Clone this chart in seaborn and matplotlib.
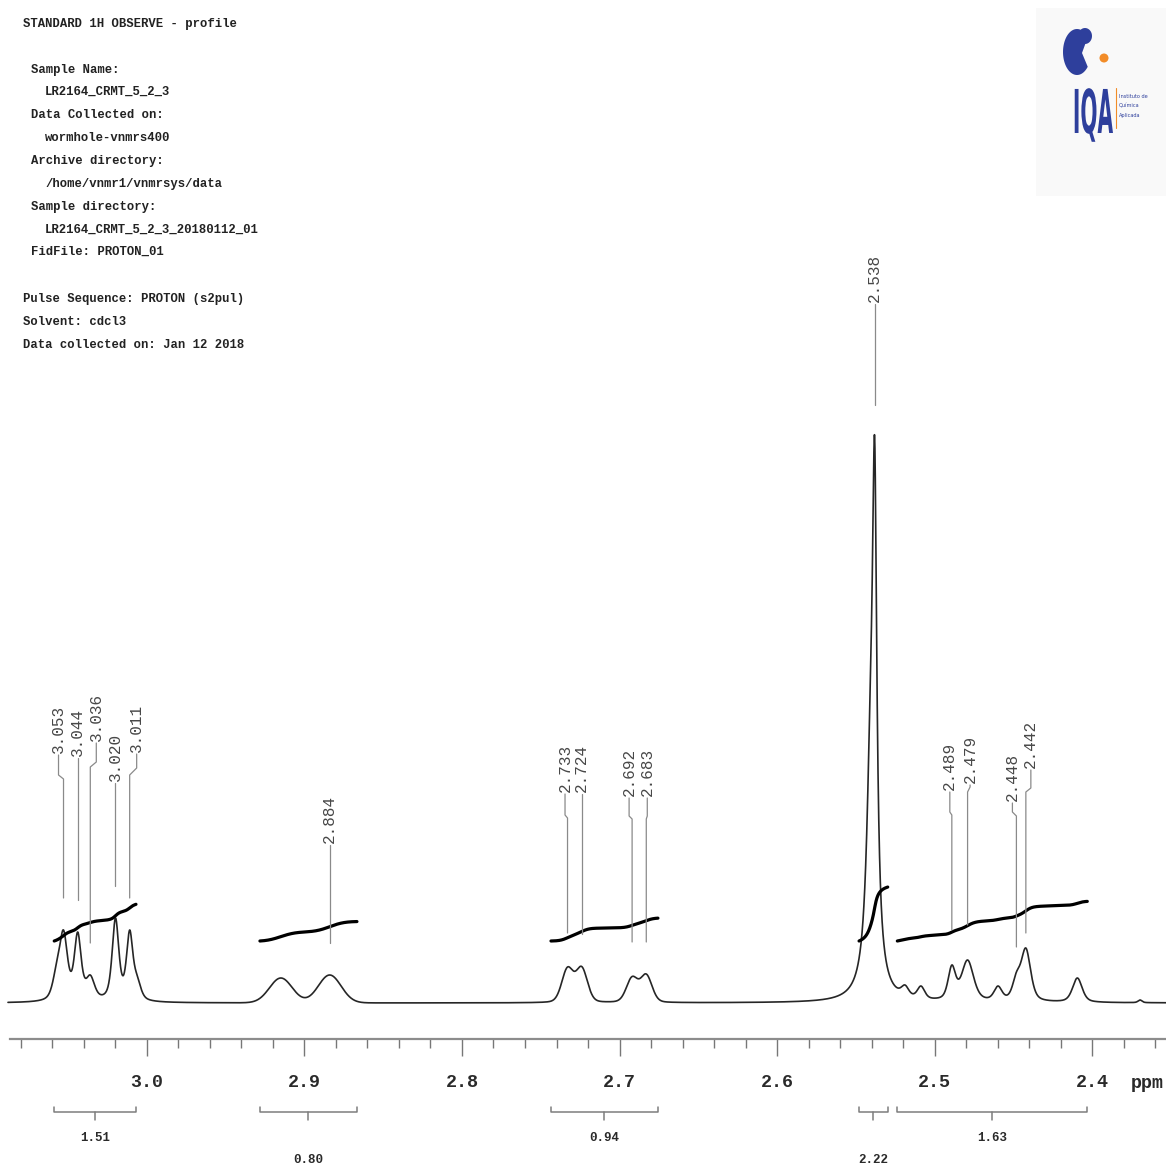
import numpy as np
import matplotlib
matplotlib.use("Agg")
import matplotlib.pyplot as plt
from matplotlib.ticker import MultipleLocator, FixedLocator, FormatStrFormatter
from matplotlib.patches import Polygon, Circle, Rectangle
from matplotlib.patheffects import AbstractPathEffect
from matplotlib.transforms import Affine2D
import seaborn as sns

# ------------------------------------------------------------------ data
# resolved lines of the 1H trace: shift (ppm), apex intensity, half width (ppm), Lorentzian fraction
line_ppm = [3.0575, 3.0530, 3.0440, 3.0360, 3.0200, 3.0110, 3.0063,
            2.9150, 2.8840,
            2.7330, 2.7240, 2.6920, 2.6830,
            2.5405, 2.5380,
            2.5187, 2.5086, 2.4890, 2.4790, 2.4597, 2.4480, 2.4420, 2.4093, 2.3695]
line_apex = [40, 73, 71, 28, 85, 73, 28,
             25, 28,
             36, 36.5, 26.5, 29,
             340, 566,
             18, 17, 38, 43, 17, 31, 55, 25, 3]
line_hwhm = [0.0030, 0.0030, 0.0026, 0.0032, 0.0025, 0.0024, 0.0028,
             0.0085, 0.0085,
             0.0043, 0.0043, 0.0043, 0.0043,
             0.0032, 0.00165,
             0.0028, 0.0028, 0.0028, 0.0045, 0.0030, 0.0030, 0.0036, 0.0036, 0.0015]
line_eta = [0.5, 0.5, 0.6, 0.5, 0.6, 0.6, 0.5,
            0.0, 0.0,
            0.2, 0.2, 0.2, 0.2,
            1.0, 1.0,
            0.5, 0.5, 0.5, 0.5, 0.5, 0.5, 0.5, 0.5, 0.5]

# peak picks printed above the trace
pick_ppm = [3.053, 3.044, 3.036, 3.020, 3.011, 2.884,
            2.733, 2.724, 2.692, 2.683, 2.538,
            2.489, 2.479, 2.448, 2.442]

# integral regions (ppm) and normalised integral values
integral_start = [3.0589, 2.9283, 2.7435, 2.5479, 2.5236]
integral_end = [3.0070, 2.8667, 2.6756, 2.5297, 2.4030]
integral_value = [1.51, 0.80, 0.94, 2.22, 1.63]

axis_major = [3.0, 2.9, 2.8, 2.7, 2.6, 2.5, 2.4]

header_text = ["STANDARD 1H OBSERVE - profile",
               "Sample Name:", "LR2164_CRMT_5_2_3",
               "Data Collected on:", "wormhole-vnmrs400",
               "Archive directory:", "/home/vnmr1/vnmrsys/data",
               "Sample directory:", "LR2164_CRMT_5_2_3_20180112_01",
               "FidFile: PROTON_01",
               "Pulse Sequence: PROTON (s2pul)",
               "Solvent: cdcl3",
               "Data collected on: Jan 12 2018"]

# ------------------------------------------------------------------ layout (pixels)
W, H = 1166, 1168
PPM_L, PPM_R = 3.09333, 2.35302
BASE = 1003.0
PX_PER_PPM = W / (PPM_L - PPM_R)

header_x = [23, 31, 45, 31, 45, 31, 45, 31, 45, 31, 23, 23, 23]
header_y = [24, 70, 92, 115, 138, 161, 184, 207, 230, 252, 299, 322, 345]

# label offset from the line, text foot, bend top, bend bottom, tip
pick_dx = [-5, 0, 6, 0, 7, 0, -2.5, 0, -3, 1, 0, -2, 2.5, -4, 5]
pick_foot = [753, 756, 741, 781, 752, 843, 792, 792, 796, 796, 302, 790, 783, 801, 768]
pick_bend0 = [775, 775, 762, 784, 768, 846, 815, 815, 816, 816, 305, 812, 787, 812, 788]
pick_bend1 = [779, 778, 767, 786, 775, 848, 818, 818, 819, 819, 307, 815, 792, 816, 792]
pick_tip = [898, 900, 943, 886, 898, 943, 933, 934, 942, 942, 405, 930, 925, 947, 933]
integral_row = [1138, 1160, 1138, 1160, 1138]


def ppm_at(px):
    return PPM_L - px / PX_PER_PPM


def yv(py):
    return BASE - py


def lineshape(x, c, w, eta):
    u = (x - c) / w
    return eta / (1.0 + u * u) + (1.0 - eta) * np.exp(-np.log(2.0) * u * u)


c = np.array(line_ppm)
w = np.array(line_hwhm)
e = np.array(line_eta)
M = lineshape(c[:, None], c[None, :], w[None, :], e[None, :])
amp = np.linalg.solve(M, np.array(line_apex, dtype=float))


def spectrum(xx):
    return (amp[None, :] * lineshape(xx[:, None], c[None, :], w[None, :], e[None, :])).sum(axis=1)


class Stretch(AbstractPathEffect):
    """Stretch glyphs vertically about the baseline."""

    def __init__(self, sy):
        super().__init__()
        self._sy = sy

    def draw_path(self, renderer, gc, tpath, affine, rgbFace=None):
        renderer.draw_path(gc, tpath, Affine2D().scale(1.0, self._sy) + affine, rgbFace)


# ------------------------------------------------------------------ figure
sns.set_theme(style="white")
plt.rcParams["font.family"] = ["Liberation Mono", "DejaVu Sans"]

fig = plt.figure(figsize=(W / 100, H / 100), dpi=100)
fig.patch.set_facecolor("white")
ax = fig.add_axes([0, 0, 1, 1])
ax.set_facecolor("white")
ax.set_xlim(PPM_L, PPM_R)
ax.set_ylim(BASE - H, BASE)

# trace
xs = np.linspace(ppm_at(8), PPM_R, 9000)
sns.lineplot(x=xs, y=spectrum(xs), ax=ax, color="#262626", linewidth=1.2,
             estimator=None, sort=False)

# integral curves, brackets and values
INT_BASE, INT_SCALE = 62.0, 24.3
for k, (a, b, v) in enumerate(zip(integral_start, integral_end, integral_value)):
    xi = np.linspace(a, b, 600)
    yi = spectrum(xi)
    cum = np.concatenate([[0.0], np.cumsum(0.5 * (yi[1:] + yi[:-1]))])
    cum /= cum[-1]
    sns.lineplot(x=xi, y=INT_BASE + v * INT_SCALE * cum, ax=ax, color="black",
                 linewidth=2.3, estimator=None, sort=False)
    yb = yv(1112)
    ax.plot([a, a, b, b], [yv(1107), yb, yb, yv(1107)], color="#7d7d7d", lw=1.1)
    m = 0.5 * (a + b)
    ax.plot([m, m], [yb, yv(1120)], color="#7d7d7d", lw=1.1)
    ax.text(m, yv(integral_row[k]), f"{v:.2f}", ha="center", va="center",
            fontsize=9, fontweight="bold", color="#2a2a2a")

# peak picks
for p, dx, foot, b0, b1, tip in zip(pick_ppm, pick_dx, pick_foot, pick_bend0,
                                    pick_bend1, pick_tip):
    tx = p - dx / PX_PER_PPM
    ax.text(tx, yv(foot), f"{p:.3f}", rotation=90, ha="center", va="bottom",
            fontsize=11.5, color="#474747")
    ax.plot([tx, tx, p, p], [yv(foot + 2), yv(b0), yv(b1), yv(tip)],
            color="#8a8a8a", lw=0.9)

# ppm axis
for s in ("left", "right", "top"):
    ax.spines[s].set_visible(False)
sp = ax.spines["bottom"]
sp.set_visible(True)
sp.set_position(("data", yv(1039)))
sp.set_bounds(ppm_at(10), PPM_R)
sp.set_color("#8c8c8c")
sp.set_linewidth(1.6)
ax.xaxis.set_major_locator(FixedLocator(axis_major))
ax.xaxis.set_minor_locator(MultipleLocator(0.02))
ax.xaxis.set_major_formatter(FormatStrFormatter("%.1f"))
ax.tick_params(axis="x", which="both", bottom=True, direction="out", color="#777777", width=1.0)
ax.tick_params(axis="x", which="major", length=12.2, pad=13, labelsize=13.2, labelcolor="#2a2a2a")
ax.tick_params(axis="x", which="minor", length=6.5)
ax.set_yticks([])
for t in ax.get_xticklabels():
    t.set_fontweight("bold")
ax.text(ppm_at(1147), yv(1084), "ppm", ha="center", va="center", fontsize=13.2,
        fontweight="bold", color="#2a2a2a")

# acquisition header
for tx, ty, s in zip(header_x, header_y, header_text):
    fig.text(tx / W, 1 - ty / H, s, ha="left", va="center", fontsize=8.8,
             fontweight="bold", color="#222222", family="Liberation Mono")

# institute logo
ov = fig.add_axes([0, 0, 1, 1], zorder=3)
ov.set_xlim(0, W)
ov.set_ylim(H, 0)
ov.axis("off")
ov.patch.set_alpha(0)
blue, orange = "#2e3f9c", "#f28c28"
ov.add_patch(Rectangle((1036, 8), 130, 188, facecolor="#f9f9f9", edgecolor="none"))
th = np.radians(np.linspace(40, 320, 80))
cx, cy = 1077, 52
pts = np.c_[cx + 14 * np.cos(th), cy - 23 * np.sin(th)]
pts = np.vstack([[cx + 5, cy + 1], pts])
ov.add_patch(Polygon(pts, closed=True, facecolor=blue, edgecolor="none"))
lobe = np.radians(np.linspace(0, 360, 40))
ov.add_patch(Polygon(np.c_[1085 + 7 * np.cos(lobe), 36 - 8 * np.sin(lobe)], closed=True,
                     facecolor=blue, edgecolor="none"))
ov.add_patch(Circle((1104, 58), 4.5, facecolor=orange, edgecolor="none"))
ov.text(1093, 133, "IQA", ha="center", va="baseline", fontsize=14.5, fontweight="bold",
        color=blue, family="DejaVu Sans", path_effects=[Stretch(3.0)])
ov.plot([1116, 1116], [88, 128], color=orange, lw=0.8)
for yy, s in zip([96, 106, 116], ["Instituto de", "Química", "Aplicada"]):
    ov.text(1119, yy, s, ha="left", va="center", fontsize=3.6, color=blue,
            family="DejaVu Sans")

fig.savefig("out.png", dpi=100, facecolor="white")
